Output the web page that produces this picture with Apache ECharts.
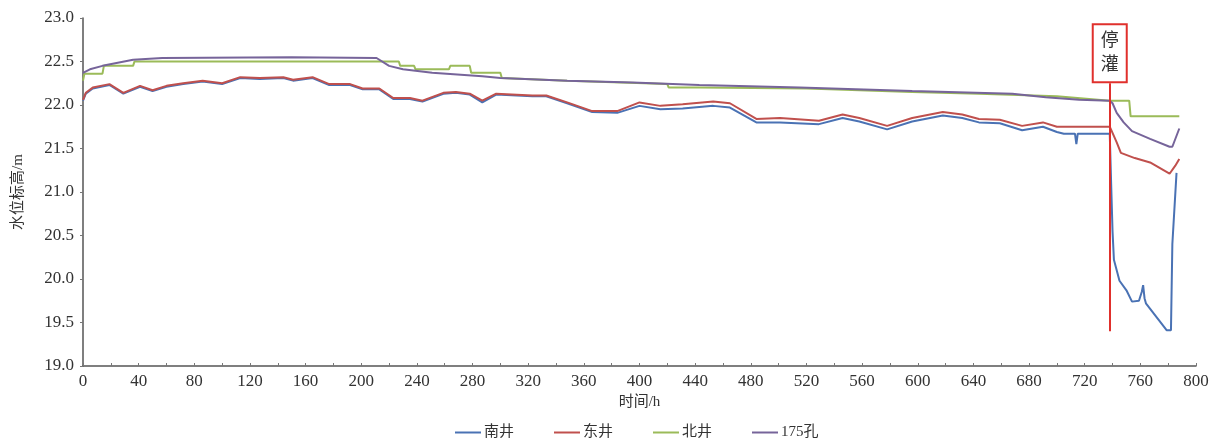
<!DOCTYPE html>
<html>
<head>
<meta charset="utf-8">
<script src="https://cdn.jsdelivr.net/npm/echarts@6/dist/echarts.min.js"></script>
<style>html,body{margin:0;padding:0;background:#fff}#c{width:1215px;height:443px}</style>
</head>
<body>
<div id="c"></div>
<script>
// ---- data ----
const seriesNames = ['南井', '东井', '北井', '175孔'];
const xTicks = [0, 40, 80, 120, 160, 200, 240, 280, 320, 360, 400, 440, 480, 520, 560, 600, 640, 680, 720, 760, 800];
const yTicks = [19.0, 19.5, 20.0, 20.5, 21.0, 21.5, 22.0, 22.5, 23.0];

// 南井 (blue)
const nanT = [0,2,7,19,29,41,50,60,72,86,100,113,127,144,151,165,177,192,201,213,223,235,244,259,268,278,287,297,323,333,348,366,384,400,415,431,453,465,484,501,529,546,558,578,596,618,632,644,659,675,690,700,705,713,714,715,738,739,740,741,745,750,754,759,761,762,763,764,779,782,783,786];
const nanV = [22.05,22.13,22.19,22.23,22.13,22.21,22.16,22.21,22.24,22.27,22.24,22.31,22.30,22.31,22.28,22.31,22.23,22.23,22.18,22.18,22.07,22.07,22.04,22.13,22.14,22.12,22.03,22.12,22.10,22.10,22.02,21.92,21.91,21.99,21.95,21.96,21.99,21.97,21.80,21.80,21.78,21.85,21.81,21.72,21.81,21.88,21.85,21.80,21.79,21.71,21.75,21.69,21.67,21.67,21.55,21.67,21.67,21.10,20.55,20.22,19.98,19.87,19.74,19.75,19.85,19.93,19.78,19.72,19.41,19.41,20.40,21.22];

// 东井 (red)
const dongT = [0,2,7,19,29,41,50,60,72,86,100,113,127,144,151,165,177,192,201,213,223,235,244,259,268,278,287,297,323,333,348,366,384,400,415,431,453,465,484,501,529,546,558,578,596,618,632,644,659,675,690,700,716,738,740,743,746,756,767,781,785,788];
const dongV = [22.06,22.14,22.20,22.24,22.14,22.22,22.17,22.22,22.25,22.28,22.25,22.32,22.31,22.32,22.29,22.32,22.24,22.24,22.19,22.19,22.08,22.08,22.05,22.14,22.15,22.13,22.05,22.13,22.11,22.11,22.03,21.93,21.93,22.03,21.99,22.01,22.04,22.02,21.84,21.85,21.82,21.89,21.85,21.76,21.85,21.92,21.89,21.84,21.83,21.76,21.80,21.75,21.75,21.75,21.68,21.57,21.45,21.39,21.34,21.21,21.30,21.38];

// 北井 (green)
const beiT = [0,1,14,15,36,37,227,228,238,239,263,264,278,279,300,301,348,420,421,443,444,520,596,644,700,738,752,753,788];
const beiV = [22.28,22.36,22.36,22.45,22.45,22.50,22.50,22.45,22.45,22.41,22.41,22.45,22.45,22.37,22.37,22.31,22.28,22.24,22.20,22.20,22.22,22.19,22.15,22.13,22.10,22.05,22.05,21.87,21.87];

// 175孔 (purple)
const kongT = [0,5,14,36,57,150,211,220,230,251,287,300,348,395,443,515,596,668,692,716,738,740,743,748,754,767,781,783,788];
const kongV = [22.37,22.41,22.45,22.52,22.54,22.55,22.54,22.45,22.41,22.37,22.33,22.31,22.28,22.26,22.23,22.20,22.16,22.13,22.09,22.06,22.05,22.02,21.91,21.80,21.70,21.61,21.52,21.52,21.73];

// stop-irrigation marker
const stopT = 738;
const stopRange = [19.4, 22.25];
const stopLabel = '停\n灌';

// ---- chart ----
const pair = (t, v) => t.map((x, i) => [x, v[i]]);
const colors = ['#4a72b4', '#c0504d', '#9bbb59', '#76649a'];
const serif = 'Liberation Serif, "Times New Roman", "Noto Sans CJK SC", serif';

const chart = echarts.init(document.getElementById('c'), null, {renderer: 'canvas'});
chart.setOption({
  animation: false,
  backgroundColor: '#fff',
  color: colors,
  grid: {left: 83, right: 19, top: 18, bottom: 77, containLabel: false},
  legend: {
    data: seriesNames,
    left: 450, bottom: -2,
    icon: 'rect', itemWidth: 26, itemHeight: 2, itemGap: 40,
    textStyle: {fontFamily: serif, fontSize: 15, color: '#333', padding: [0,0,0,-2]}
  },
  xAxis: {
    type: 'value', min: 0, max: 800, interval: 40,
    name: '时间/h', nameLocation: 'middle', nameGap: 27,
    nameTextStyle: {fontFamily: serif, fontSize: 15, color: '#333'},
    axisLine: {lineStyle: {color: '#555', width: 1.5}},
    axisTick: {show: true, inside: true, length: 3, lineStyle: {color: '#777'}},
    minorTick: {show: true, splitNumber: 2, length: 3, lineStyle: {color: '#777'}},
    splitLine: {show: false},
    axisLabel: {fontFamily: serif, fontSize: 17, color: '#333', margin: 7,
      formatter: v => xTicks.includes(v) ? String(v) : ''}
  },
  yAxis: {
    type: 'value', min: 19, max: 23, interval: 0.5,
    name: '水位标高/m', nameLocation: 'middle', nameRotate: 90, nameGap: 57,
    nameTextStyle: {fontFamily: serif, fontSize: 15, color: '#333'},
    axisLine: {show: true, lineStyle: {color: '#555', width: 1.5}},
    axisTick: {show: true, length: 3, lineStyle: {color: '#777'}},
    splitLine: {show: false},
    axisLabel: {fontFamily: serif, fontSize: 17, color: '#333', margin: 9,
      formatter: v => yTicks.find(t => Math.abs(t - v) < 1e-6).toFixed(1)}
  },
  series: [
    {name: seriesNames[0], type: 'line', data: pair(nanT, nanV), showSymbol: false, symbol: 'none',
      lineStyle: {width: 2}},
    {name: seriesNames[1], type: 'line', data: pair(dongT, dongV), showSymbol: false, symbol: 'none',
      lineStyle: {width: 2},
      markLine: {
        silent: true, symbol: ['none', 'arrow'], symbolSize: [0, 9], animation: false,
        lineStyle: {color: '#e0302c', width: 2, type: 'solid'},
        label: {show: true, position: 'end', distance: 2, formatter: stopLabel,
          fontFamily: serif, fontSize: 18, lineHeight: 24, color: '#333',
          backgroundColor: '#fff', borderColor: '#e0302c', borderWidth: 2, padding: [4, 7]},
        data: [[{coord: [stopT, stopRange[0]]}, {coord: [stopT, stopRange[1]]}]]
      }},
    {name: seriesNames[2], type: 'line', data: pair(beiT, beiV), showSymbol: false, symbol: 'none',
      lineStyle: {width: 2}},
    {name: seriesNames[3], type: 'line', data: pair(kongT, kongV), showSymbol: false, symbol: 'none',
      lineStyle: {width: 2}}
  ]
});
</script>
</body>
</html>
